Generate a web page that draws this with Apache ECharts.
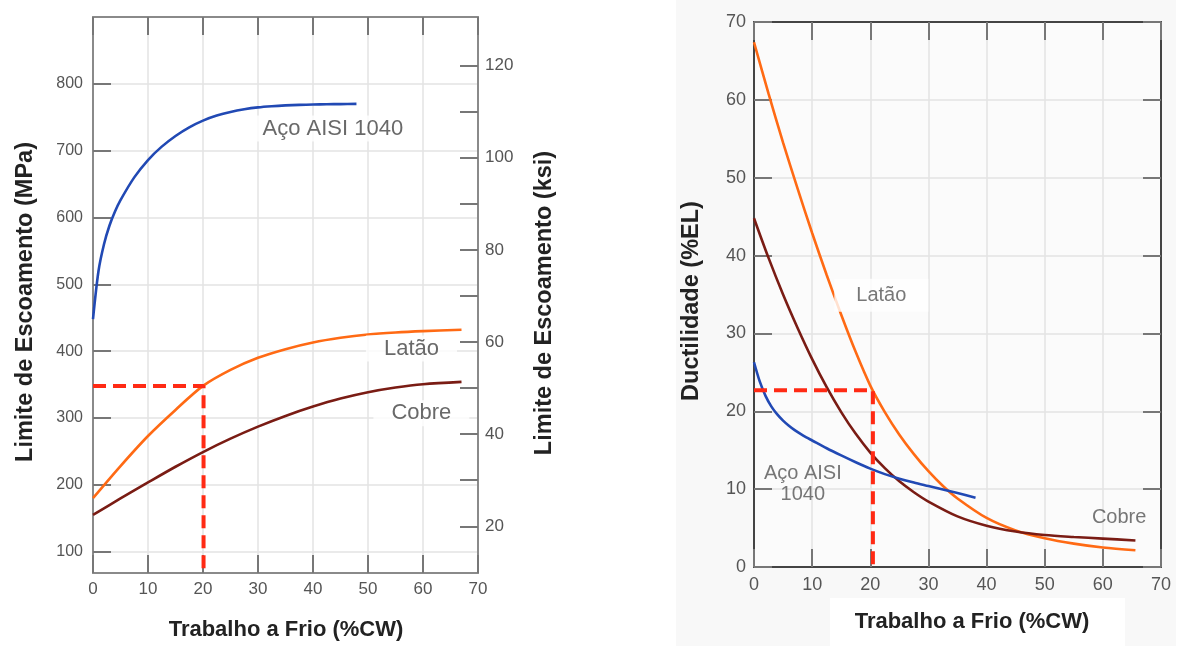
<!DOCTYPE html>
<html>
<head>
<meta charset="utf-8">
<script src="https://cdn.jsdelivr.net/npm/echarts@6/dist/echarts.min.js"></script>
<style>
html,body{margin:0;padding:0;background:#fff;}
#c{width:1193px;height:646px;}
</style>
</head>
<body>
<div id="c"></div>
<script>
// ---------- DATA ----------
// Left chart: yield strength (MPa) vs cold work (%CW)
const steelLeftX = [0, 1, 2, 3, 4, 5, 7.5, 10, 12.5, 15, 17.5, 20, 22.5, 25, 27.5, 30, 32.5, 35, 37.5, 40, 42.5, 45, 47.9];
const steelLeftY = [448, 520, 560, 588, 609, 626, 660, 686, 706, 722, 735, 745, 752.5, 758, 762, 764.8, 766.5, 767.7, 768.5, 769, 769.4, 769.7, 770];
const brassLeftX = [0, 5, 10, 15, 20, 25, 30, 35, 40, 45, 50, 55, 60, 67];
const brassLeftY = [180, 228, 273, 312, 348, 372, 390, 403, 413, 420, 425, 428, 430, 432];
const copperLeftX = [0, 5, 10, 15, 20, 25, 30, 35, 40, 45, 50, 55, 60, 67];
const copperLeftY = [155, 179.5, 203.5, 227, 249, 269, 287, 303, 317, 329, 338.5, 345.5, 350.5, 354];
const dashLeftX = [0, 20.1, 20.1];
const dashLeftY = [348, 348, 68];
const dashLeftText = '346';

// Right chart: ductility (%EL) vs cold work (%CW)
const brassRightX = [0, 2.5, 5, 7.5, 10, 12.5, 15, 17.5, 20, 22.5, 25, 27.5, 30, 32.5, 35, 40, 45, 50, 55, 60, 65.6];
const brassRightY = [67.4, 60.8, 54.5, 48.6, 42.9, 37.5, 32.4, 27.6, 23.3, 19.9, 17.0, 14.5, 12.3, 10.4, 8.8, 6.3, 4.7, 3.7, 3.0, 2.5, 2.15];
const copperRightX = [0, 2.5, 5, 7.5, 10, 12.5, 15, 17.5, 20, 22.5, 25, 27.5, 30, 35, 40, 45, 50, 55, 60, 65.6];
const copperRightY = [44.8, 39.7, 35.0, 30.7, 26.7, 23.1, 19.9, 17.1, 14.7, 12.7, 11.0, 9.6, 8.4, 6.5, 5.3, 4.55, 4.1, 3.85, 3.65, 3.4];
const steelRightX = [0, 1, 2, 3, 4, 5, 6, 7, 8, 9, 10, 12.5, 15, 17.5, 20, 22.5, 25, 27.5, 30, 32.5, 35, 38.1];
const steelRightY = [26.3, 23.8, 21.95, 20.6, 19.6, 18.8, 18.14, 17.58, 17.09, 16.65, 16.25, 15.25, 14.33, 13.45, 12.63, 11.93, 11.35, 10.85, 10.4, 9.95, 9.5, 8.9];
const dashRightX = [0, 20.45, 20.45];
const dashRightY = [22.7, 22.7, 0];
const dashRightText = '23,7';

// Axis ticks / labels
const mpaTicks = [100, 200, 300, 400, 500, 600, 700, 800];
const ksiTicks = [20, 30, 40, 50, 60, 70, 80, 90, 100, 110, 120];
const ksiLabels = [20, 40, 60, 80, 100, 120];
const MPA_PER_KSI = 6.895;
const mpaMin = 68, mpaMax = 900;

// Curve annotations (data coords)
const leftNotes = [
  {text: 'Aço AISI 1040', x: 43.6, y: 733},
  {text: 'Latão', x: 57.9, y: 404},
  {text: 'Cobre', x: 59.7, y: 307}
];
const rightNotes = [
  {text: 'Latão', x: 21.9, y: 34.9, bg: true},
  {text: 'Aço AISI\n1040', x: 8.4, y: 10.6, bg: false},
  {text: 'Cobre', x: 62.8, y: 6.4, bg: false}
];

// ---------- CHART ----------
const zip = (xs, ys) => xs.map((x, i) => [x, ys[i]]);
const SANS = "'Liberation Sans', Arial, sans-serif";
const chart = echarts.init(document.getElementById('c'), null, {renderer: 'canvas'});

function boxAxis(opts) {
  return Object.assign({
    type: 'value',
    axisLine: {show: true, onZero: false, lineStyle: {color: opts.border, width: 2}},
    axisTick: {show: true, inside: true, length: 18, lineStyle: {color: '#777', width: 2}},
    axisLabel: {show: false},
    splitLine: {show: false}
  }, opts.extra);
}

const leftBorder = '#8a8a8a';
const rightBorder = '#444';
const gridColor = '#e3e3e3';

function curve(xi, yi, xs, ys, color) {
  return {type: 'line', xAxisIndex: xi, yAxisIndex: yi, data: zip(xs, ys), smooth: 0.3,
    showSymbol: false, lineStyle: {color: color, width: 2.6}};
}

const option = {
  animation: false,
  backgroundColor: '#fff',
  graphic: [
    {type: 'rect', z: -10, shape: {x: 676, y: 0, width: 500, height: 646}, style: {fill: '#f8f8f8'}},
    {type: 'rect', z: -9, shape: {x: 830, y: 598, width: 295, height: 48}, style: {fill: '#fff'}},
    {type: 'text', x: 26, y: 302, rotation: Math.PI / 2,
      style: {text: 'Limite de Escoamento (MPa)', font: "bold 23.5px 'Liberation Sans', Arial, sans-serif", fill: '#222', textAlign: 'center', textVerticalAlign: 'middle'}},
    {type: 'text', x: 545, y: 303, rotation: Math.PI / 2,
      style: {text: 'Limite de Escoamento (ksi)', font: "bold 23.5px 'Liberation Sans', Arial, sans-serif", fill: '#222', textAlign: 'center', textVerticalAlign: 'middle'}},
    {type: 'text', x: 286, y: 630,
      style: {text: 'Trabalho a Frio (%CW)', font: "bold 22px 'Liberation Sans', Arial, sans-serif", fill: '#222', textAlign: 'center', textVerticalAlign: 'middle'}},
    {type: 'text', x: 692, y: 301, rotation: Math.PI / 2,
      style: {text: 'Ductilidade (%EL)', font: "bold 23.5px 'Liberation Sans', Arial, sans-serif", fill: '#222', textAlign: 'center', textVerticalAlign: 'middle'}},
    {type: 'text', x: 972, y: 622,
      style: {text: 'Trabalho a Frio (%CW)', font: "bold 22px 'Liberation Sans', Arial, sans-serif", fill: '#222', textAlign: 'center', textVerticalAlign: 'middle'}}
  ],
  grid: [
    {left: 93, top: 17, width: 385, height: 556, show: true, backgroundColor: '#fff', borderWidth: 0},
    {left: 754, top: 22, width: 407, height: 545, show: true, backgroundColor: '#fbfbfb', borderWidth: 0}
  ],
  xAxis: [
    boxAxis({border: leftBorder, extra: {gridIndex: 0, position: 'bottom', min: 0, max: 70, interval: 10,
      axisLabel: {show: true, margin: 8, color: '#555', fontSize: 17, fontFamily: SANS},
      splitLine: {show: true, lineStyle: {color: gridColor, width: 1.5}}}}),
    boxAxis({border: leftBorder, extra: {gridIndex: 0, position: 'top', min: 0, max: 70, interval: 10}}),
    boxAxis({border: rightBorder, extra: {gridIndex: 1, position: 'bottom', min: 0, max: 70, interval: 10,
      axisLabel: {show: true, margin: 9, color: '#555', fontSize: 18, fontFamily: SANS},
      splitLine: {show: true, lineStyle: {color: gridColor, width: 1.5}}}}),
    boxAxis({border: rightBorder, extra: {gridIndex: 1, position: 'top', min: 0, max: 70, interval: 10}})
  ],
  yAxis: [
    boxAxis({border: leftBorder, extra: {gridIndex: 0, position: 'left', min: mpaMin, max: mpaMax,
      axisTick: {show: true, inside: true, length: 18, lineStyle: {color: '#777', width: 2}, customValues: mpaTicks},
      axisLabel: {show: true, margin: 10, color: '#555', fontSize: 16, fontFamily: SANS, customValues: mpaTicks},
      splitLine: {show: true, lineStyle: {color: gridColor, width: 1.5}}}}),
    boxAxis({border: leftBorder, extra: {gridIndex: 0, position: 'right', min: mpaMin / MPA_PER_KSI, max: mpaMax / MPA_PER_KSI,
      axisTick: {show: true, inside: true, length: 18, lineStyle: {color: '#777', width: 2}, customValues: ksiTicks},
      axisLabel: {show: true, margin: 7, color: '#555', fontSize: 17, fontFamily: SANS, customValues: ksiLabels}}}),
    boxAxis({border: rightBorder, extra: {gridIndex: 1, position: 'left', min: 0, max: 70, interval: 10,
      axisLabel: {show: true, margin: 8, color: '#555', fontSize: 18, fontFamily: SANS},
      splitLine: {show: true, lineStyle: {color: gridColor, width: 1.5}}}}),
    boxAxis({border: rightBorder, extra: {gridIndex: 1, position: 'right', min: 0, max: 70, interval: 10}})
  ],
  series: [
    curve(0, 0, steelLeftX, steelLeftY, '#2149b4'),
    curve(0, 0, brassLeftX, brassLeftY, '#ff6a14'),
    curve(0, 0, copperLeftX, copperLeftY, '#7a1c14'),
    {type: 'line', xAxisIndex: 0, yAxisIndex: 0, data: zip(dashLeftX, dashLeftY), showSymbol: false, z: 5,
      lineStyle: {color: '#ff2a14', width: 4, type: [13, 7]},
      label: {show: true, position: 'left', distance: 10, color: '#ff2a2a', fontSize: 22, fontFamily: SANS,
        formatter: p => p.dataIndex === 0 ? dashLeftText : ''}},
    {type: 'scatter', xAxisIndex: 0, yAxisIndex: 0, symbolSize: 0, z: 4,
      data: leftNotes.map(n => ({value: [n.x, n.y], name: n.text})),
      label: {show: true, position: 'inside', formatter: p => p.name, color: '#444', fontSize: 22, fontFamily: SANS,
        backgroundColor: '#fff', padding: [2, 18]}},

    curve(2, 2, brassRightX, brassRightY, '#ff6a14'),
    curve(2, 2, copperRightX, copperRightY, '#7a1c14'),
    curve(2, 2, steelRightX, steelRightY, '#2149b4'),
    {type: 'line', xAxisIndex: 2, yAxisIndex: 2, data: zip(dashRightX, dashRightY), showSymbol: false, z: 5,
      lineStyle: {color: '#ff2a14', width: 4, type: [13, 7]},
      label: {show: true, position: 'left', distance: 3, color: '#ff2a2a', fontSize: 22, fontFamily: SANS,
        formatter: p => p.dataIndex === 0 ? dashRightText : ''}},
    {type: 'scatter', xAxisIndex: 2, yAxisIndex: 2, symbolSize: 0, z: 4,
      data: rightNotes.map(n => ({value: [n.x, n.y], name: n.text,
        label: n.bg ? {backgroundColor: '#fff', padding: [6, 22]} : {}})),
      label: {show: true, position: 'inside', formatter: p => p.name, color: '#555', fontSize: 20, lineHeight: 21, fontFamily: SANS, align: 'center'}}
  ]
};
chart.setOption(option);
</script>
</body>
</html>
